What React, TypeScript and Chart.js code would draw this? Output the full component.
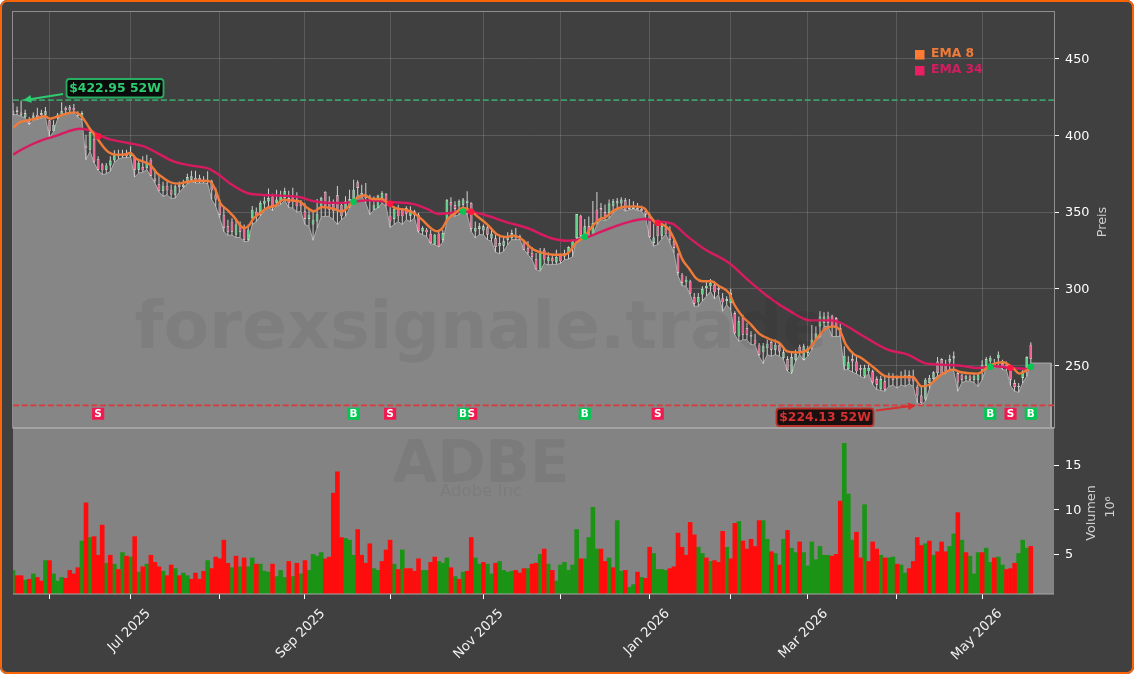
import React, { useEffect, useRef } from "react";
import { Chart, registerables } from "chart.js";

Chart.register(...registerables);

const opens = [
413.5,416.4,415,412,409.2,411.5,413.5,414.6,413.5,409.9,
402.7,411.4,413.5,417.9,418.3,417.9,414.6,412,393.4,390.7,
397.7,384.7,381,377.7,380.5,383.8,387.9,386.4,388.1,386.4,
386,377.7,379.5,378.8,384.2,372,368.4,363.8,367.3,364.7,
361.4,368,366.4,369.5,371.2,372.3,372.3,369.9,371.2,370.1,
361.4,356,348.4,341,343.8,335.3,341.9,339.9,332.1,346.2,
350.3,349.5,355.5,357,360.3,356,357.1,359.2,359.2,360.3,
358.2,356,
350.6,345.6,341.9,344,352.7,363.2,357.1,355.3,361,354.9,
351.6,353.8,357.1,369.5,360.3,361.4,360.3,351.6,352.7,359.2,
361.9,347.7,345.6,352.1,351.6,352.7,347.7,350.6,348.4,337.5,
338.6,336,329,336,332.1,344.7,356.4,354.5,353.8,354.9,
356,356,337.5,339.1,338,340.1,332.8,333,327.8,328.2,
332.1,333.2,334.3,334.3,331,326.7,323.4,319.5,312.6,325.6,
318,320,317.3,322.3,321.2,323.4,326.7,333.2,347.7,335.4,
340.8,335.4,351.6,352.7,350.1,349.5,353.8,355.6,355.6,357.7,
353.8,352.1,352.7,352.1,350.6,348.4,330,340.8,334.7,340,
337.5,331,323,309.3,304.3,305,294.8,291.3,296.3,300.6,
301.7,302.8,300.6,294,292,290.8,284.3,269,281,274.5,
270,266.9,263.7,258.7,261.5,265.4,260.4,263.7,255,254.3,
245.7,253.5,262.2,253.9,258.3,262.6,267,275.6,277.8,282.1,
282.6,281,274.5,249.6,247.8,254.3,252.8,248.5,243,246.3,
246.3,241.3,234.8,239.8,242,242.6,241.5,242.4,242,243.9,
243,236.1,230.5,227.9,238.7,241.3,252.8,254.3,250.6,252.5,
254.6,245.2,244.1,241.3,243,240.9,240.9,246.3,250,252.8,
251.7,255,251.7,250.6,249.6,238.7,236.9,242,248.5,263.7,
];

const highs = [
421.1,418.9,422.7,416.8,412,415,418,416.8,418.6,410.3,
409.9,414.6,421.6,419,419.8,420.5,415.7,415.7,400.5,402.7,
401.6,386.4,382.1,382.1,386.4,390.3,390.7,390.7,390.7,392.9,
386.4,384.2,386.4,387.5,385.3,377.7,373.4,369.9,369.9,368,
368,370,371.2,375,377,377,374.4,373.4,376.6,371.2,
366,358.2,354,345,346,345,344,341.9,342,354,
353,357.5,360,365.5,362,364.7,364,366,364,366,
363,358,
355.9,352,350.6,358.6,360,363.6,360.4,358.2,367,356,
360.4,364.7,371.2,370.8,367.9,369,361.4,360.3,361.4,363.6,
362.5,353.3,353.8,354.9,352.7,353.8,353.8,351.6,349.5,340.8,
339.7,338.6,336,337.5,338.6,358.6,359.8,357.1,358.2,359.3,
363.6,356.4,344,343,342,341.9,338.6,335.3,334.2,333.8,
337,338.6,339.7,335.3,332.1,331,327.3,323.4,326.7,326.7,
323.9,322.3,325.6,323,325.6,327.8,332,348.8,348.4,345.6,
347.2,357.3,363.1,356,355,358.2,358.6,359.3,359.7,359.2,
358.6,357.1,356,354.2,352.7,349.5,342.4,345.1,344,344,
340.8,333.2,323.4,310.4,308.2,306,297.3,297.3,301.7,304.9,
306.5,305,302.8,297.3,295.2,299.9,285.4,282.1,283.2,277.8,
272.4,270.8,264.7,264.7,267,267.3,267,264.7,261.5,256.1,
258.3,260.4,263.7,264.3,263,276.5,275.6,285.4,284.8,285.2,
283.2,281.7,277.8,262.6,256.1,258.3,256,250.6,250.6,250.6,
247.4,243,243.5,243.5,245.4,245,243.6,246.3,247.4,246.9,
247.4,237.6,236.1,242,244,246.3,255.6,254.9,253.9,257.2,
259.2,246.3,244.8,244.1,244,245,245.2,253.5,255.6,256.5,
254.3,259.3,253.9,252.8,250.6,240.9,238.7,247.4,256.1,265.2,
];

const lows = [
413.5,413.5,412.5,411.4,407,410,410.4,411.2,412,398.3,
402.7,410.7,413.5,414.6,414.8,414.6,411.9,410.3,384.2,389.6,
382.1,377.3,374.5,375,376.6,382.5,384.6,385.5,385.5,386,
372.9,375.5,376,377.7,373.4,369,363.4,360.3,361.4,358.9,
359.1,363,365.8,368.6,369.9,369,369,369,368.6,358.2,
353.8,346,337.3,335,335,333.5,333.5,330.8,331,341.9,
344,347.5,351,354,351,354,355,357.7,353,352.7,
350,350.5,
341.9,340.8,331.7,339.7,346.8,347.3,347.3,345.1,341.9,345.1,
347.3,352.7,355.9,361.4,360.3,356,348.4,351.6,352.7,356,
353.8,340.1,341.9,343.9,341.9,345.1,343.9,346.2,336.8,335.3,
334.2,329.4,328.8,327.3,330.6,344,348.4,347.3,348.4,351.6,
348.4,337.5,333.2,335.3,335.3,332.1,331,323.9,323,324.5,
328.8,332.1,332.1,332.1,325.6,322.3,319.1,312.6,311.5,316.6,
315.6,316,316,316.6,319,319.5,321,332.5,334.3,334.3,
334,335,342,345.1,344.6,346,349.5,351.6,353.3,350.6,
351.6,352.1,351.2,350.6,346.8,333.2,327.8,329,332.5,335.6,
329.9,323.4,308.7,302.2,301.7,296.5,288.7,288.7,292.1,295.2,
298.5,293.4,296.3,285.4,289.7,286.5,270.2,265.8,266.9,266.9,
263.7,263.6,256.1,251.3,257.2,256.1,257.2,256.1,253.9,246.3,
244.8,252.8,257.2,253.5,256.1,260.4,267,268.4,275.6,275.6,
269,269,269.1,247.4,247.4,245.8,244.7,243,241.9,244.8,
237.6,234.4,233.9,233.3,236.5,237.4,235.4,237.4,236.5,238,
236.5,225.7,224.4,226.8,234.9,240.9,243.5,244,244.8,247.9,
246.3,233.3,239,240,240,239,236.5,240.9,248.5,251.3,
248.5,250.6,247.4,247,236.9,233.3,232.6,238.7,243,251.7,
];

const closes = [
415.7,415.3,413.5,414.6,407.7,413,412,413.3,415.7,402.7,
407,413.5,415.7,416.4,416.4,416.4,412.9,414.6,391.8,402,
383.1,377.7,377.3,380.5,383.6,388.1,386.4,388.1,386.4,389,
377.7,382.1,377.3,382.1,373.8,370.5,363.8,367.3,364.3,361.6,
366.9,366.4,368,372.9,373.4,370.1,370.1,371.2,369.5,364.3,
358.2,348.4,339.9,337,337.3,341.9,337.3,332.1,338.6,351.6,
347.3,356,357.5,359.2,352.7,358.2,360.3,363.6,356,357.1,
353.8,353.8,
345.6,348.4,345.1,349,359.3,353.8,351.6,350.6,350.6,347.3,
357.1,358.6,364.7,365.8,362.5,359.2,357.1,354.9,360.8,362.5,
353.8,344,352.1,347.3,347.3,349,351.6,348.4,337.5,339.7,
336.9,329.9,335.3,327.8,336.4,357.7,354.3,352.1,357.1,358.2,
357.5,339.1,339.7,340.8,340.8,335.3,336,327.3,329.9,331,
334.3,336.4,333,332.8,325.6,323.4,320.8,313,324.5,319.1,
320.6,318,320.8,318,323.4,327.3,331,348.8,334.7,340.8,
334.3,343,343,351.2,347.3,355.6,357.1,357.1,358.2,351.2,
352.1,353.8,351.2,350.6,348.4,333.8,333.5,334.3,340.8,335.6,
332.1,326.7,310.4,303.9,306,297,290.4,294.8,300,302.1,
303.9,297.8,299.5,291.3,293.4,297.3,271.3,278.9,270.2,270.2,
269,264.3,257.2,263,264.3,260.4,263.7,259.3,258.7,247,
255.6,257.8,259.3,262.6,261.5,266.9,270.9,282.1,282.1,277.8,
275.6,274.5,269.1,256.5,252.2,252.8,246.3,247.4,248.5,248.5,
239.1,237.6,241.3,234.4,243,240.9,243,243.5,244.1,239.8,
239.8,230.5,225.7,240.9,242,245.7,245.2,244.1,246.3,254.3,
256.1,239.1,240.9,243.5,240.9,243.5,244.1,250.6,254.3,255,
249.6,257.2,249.6,248.5,240.9,236.1,235.9,246.3,255.6,254.3,
];

const volumes = [
3.2,2.6,2.6,2.1,2.2,2.8,2.4,2.0,4.3,4.3,
2.8,2.0,2.4,2.3,3.2,2.8,3.5,6.5,10.8,6.9,
7.0,4.9,8.3,4.0,4.9,3.9,3.3,5.2,4.8,4.7,
7.0,3.0,3.6,3.9,4.9,4.1,3.6,3.1,2.6,3.8,
3.4,2.6,2.9,2.6,2.2,2.9,2.2,3.1,4.3,3.4,
4.7,4.5,6.6,4.0,3.5,4.8,3.6,4.6,3.6,4.6,
3.9,3.9,3.1,3.0,3.9,2.5,3.2,2.4,4.2,2.5,
4.0,2.8,4.3,3.2,5.0,4.8,5.2,4.5,4.7,11.9,
14.3,6.9,6.8,6.6,4.9,7.8,4.9,4.0,6.2,3.4,
3.2,
4.2,5.5,6.6,3.9,3.3,5.5,3.4,3.4,3.1,4.5,
3.2,3.2,4.1,4.7,4.2,4.0,4.6,3.5,2.5,2.2,
3.0,3.1,6.9,4.6,3.9,4.1,3.9,2.8,4.0,4.2,
3.2,3.0,3.1,3.2,2.9,3.4,3.4,3.9,4.0,5.0,
5.6,3.9,3.2,2.0,3.8,4.1,3.2,3.8,7.8,4.5,
4.5,6.9,10.3,5.6,5.6,4.2,4.6,3.5,8.8,3.1,
3.2,1.3,1.6,3.0,2.4,2.3,5.8,5.1,3.3,3.3,
3.2,3.4,3.6,7.4,5.8,4.9,8.6,7.2,5.8,5.1,
4.6,4.2,4.3,4.1,7.6,5.8,4.5,8.5,8.7,6.5,
5.6,6.7,5.9,8.8,
8.8,6.7,5.3,5.1,3.8,6.7,7.7,5.7,5.2,6.4,
5.2,3.7,6.4,4.4,5.9,4.9,4.9,4.8,5.0,11.0,
17.5,11.8,6.6,7.5,4.6,10.6,4.2,6.4,5.6,4.9,
4.6,4.6,4.7,3.9,3.8,2.9,3.4,4.2,6.9,6.0,
6.2,6.5,4.9,5.3,6.4,5.3,5.9,7.3,9.7,6.6,
5.2,4.8,2.8,5.2,5.2,5.7,4.1,4.6,4.7,3.8,
3.3,3.4,4.0,5.1,6.6,5.7,5.9,
];

const volumeSides = [
"grrgrgrrgr","gggrrrrgrg","rrrgrgrgrg","rgrgrrrgrr","grggrrrrgr",
"rrrrgrgrgg","rgggrgggrg","rgrggggrrr","rrgggrrrrg","g",
"rrrgrgrrrr","ggrrgggrgr","grrggrggrg","gggrrrgrrg","rgrggggggr",
"ggggrrgrgg","rggrgrrggg","grrrrrrrgg","rgrrrgrrgr","rrrr",
"ggrgrgrggr","gggggggrrr","gggrrgrrrg","rggrggrrrr","grgrrrggrg",
"rgggrggrgg","rrrgggr",
].join("").split("");

const ema8Index = [0,1.7,3.8,5.8,7.9,9.1,11.2,13.3,15.3,16.5,17.8,19,20.7,22.3,23.5,25.2,27.2,28.9,30.5,32.6,33.8,35.5,37.1,38.8,40.8,42.9,45,47,48.6,49.9,51.1,52.8,54.4,56.9,58.1,59.4,61,62.6,64.7,66.7,68.8,70.9,72.1,74.2,76.2,79.1,81.2,82.4,83.8,85.3,86.7,88.6,91,92.4,94.3,96.8,98.8,100.9,103,104.6,105.9,107.1,109.1,111,112.4,114.5,117,119.4,121.5,123.5,125.6,128.1,130.1,133.4,135.9,137.1,138.8,140.8,142.9,144.5,146.2,148.2,150.3,153.2,155.6,156.9,158.5,160.2,161.8,163.5,165.1,166.8,168.4,170,172.1,174.2,176.6,177.9,179.9,182,184,186.5,189,191,193.5,196,198,200.1,202.1,203.8,205.4,207.5,209.1,212.4,215.3,218.2,221.9,224,226,228.9,231.8,233.8,237.9,241.2,244.1,246.6,248.2,250.3,251];
const ema8Values = [404.9,408.6,409.9,411.2,412.5,410.9,412.5,414.2,415,413.5,409.2,404.2,398.3,392.5,389.2,387.5,387.5,388.6,384.7,382.5,381,375.5,372.3,369.5,368.6,369.7,370.5,370.5,370.1,364.7,356,351.6,347.3,339.7,341,346.2,349.5,352.7,354.3,358.2,357.5,356.8,353.8,350.6,353.4,352.1,350.6,352.7,357.1,359.9,361,358.6,358.6,356,352.7,351.6,349.5,345.1,339.7,337.5,339.7,345.1,349.5,352.7,351.6,347.3,341.9,335.4,333.8,334.7,332.1,326,323.8,322.3,322.3,323.8,329.9,333.8,340.8,345.1,346.9,351.2,353.4,353.8,352.7,348.4,343,341.9,338.6,329.9,319.1,313,307.1,305,305,301.7,297.3,289.7,282.1,276.7,270.9,267.4,264.8,259.3,258.7,260.4,266.9,273.5,275.6,273.5,263.7,257.2,255.2,248.5,243,242.6,242.6,236.5,237.6,244.1,247.4,245.7,244.8,250.6,252.2,248.5,244.8,247.4,248.5];

const ema34Index = [0,2.5,5,7.9,10.8,13.6,16.5,19,21.1,23.5,28.4,32.6,35.5,39.6,43.7,48.2,50.4,53.6,57.7,61,65.9,70.9,74.2,79.1,83.2,87.3,93.1,98.8,102.1,105,107.9,111,115.3,121.9,126.8,132.6,136.7,140,143.3,147.4,151.5,155.6,158.9,162.6,166.3,170.5,176.6,181.2,186.1,191,196.8,201.7,204.2,209.1,215.7,220.7,224.8,228.9,233.8,237.9,242,246.2,251];
const ema34Values = [387.5,391.3,394.6,397.6,399.9,402.7,404.4,403.3,400.5,397.7,395.1,392.5,388.6,383.1,380.5,378.4,375.1,368.6,362.5,361.4,360.8,359.7,357.1,356,356.4,357.7,356.6,355.3,352.1,348.8,349.5,350.6,349,343.4,339.7,333.2,331.4,332.5,335.4,339.7,343.4,345.6,344,342.5,334.3,326,316.9,306,295.2,286.5,279.5,279.5,277.8,270.2,260.4,257.2,251.7,250.7,250,248.5,249.6,248.5,247.8];

const crossBuyIndex = [84,111,141,241,251];
const crossBuyPrice = [356.8,350.5,334,249.3,249.3];
const crossSellIndex = [21,93,113,159,246];
const crossSellPrice = [399.5,355.5,350.3,343,248.6];

const monthTickIndex = [9,29,51,72,93,116,135,157,177,196,218,239];
const monthTickLabels = ["","Jul 2025","","Sep 2025","","Nov 2025","","Jan 2026","","Mar 2026","","May 2026"];
const priceTicks = [250,300,350,400,450];
const volumeTicks = [5,10,15];

const high52 = 422.95;
const low52 = 224.13;
const high52Index = 2.5;
const low52Index = 222.7;
const badgeBand = 218.7;
const areaEndIndex = 256;

const PRICE_MIN = 209.4;
const PRICE_MAX = 480.75;
const VOL_MIN = 0.5;
const VOL_MAX = 19.2;
const X_MAX = 256.72;

const FONT = "'DejaVu Sans'";
const ORANGE = "#f07a38";
const PINK = "#d81b60";

const chartText = {
  id: "chartText",
  beforeDatasetsDraw(chart: any) {
    const { ctx, chartArea } = chart;
    const v = chart.scales.yVol;
    ctx.save();
    ctx.fillStyle = "#838383";
    ctx.fillRect(chartArea.left, v.top, chartArea.right - chartArea.left, v.bottom - v.top);
    ctx.restore();
  },
  afterDatasetsDraw(chart: any) {
    const { ctx, chartArea } = chart;
    const x = chart.scales.x;
    const p = chart.scales.yPrice;
    const v = chart.scales.yVol;
    const L = chartArea.left;
    const R = chartArea.right;
    ctx.save();

    // watermarks
    ctx.textAlign = "center";
    ctx.textBaseline = "alphabetic";
    ctx.fillStyle = "rgba(0,0,0,0.055)";
    ctx.font = `bold 66.5px ${FONT}`;
    ctx.fillText("forexsignale.trade", 481, 348);
    ctx.font = `bold 58px ${FONT}`;
    ctx.fillText("ADBE", 481, 482);
    ctx.font = `16.5px ${FONT}`;
    ctx.fillText("Adobe Inc", 481, 496);

    // frame
    ctx.strokeStyle = "#8f8f8f";
    ctx.lineWidth = 1;
    ctx.strokeRect(L - 0.5, p.top, R - L + 1, p.bottom - p.top);
    ctx.strokeStyle = "#a3a3a3";
    ctx.lineWidth = 2;
    ctx.beginPath();
    ctx.moveTo(L, p.bottom);
    ctx.lineTo(R, p.bottom);
    ctx.stroke();
    ctx.lineWidth = 1;
    ctx.strokeStyle = "#a8a8a8";
    ctx.beginPath();
    ctx.moveTo(L, v.bottom);
    ctx.lineTo(R, v.bottom);
    ctx.stroke();

    // badge letters
    ctx.textBaseline = "middle";
    ctx.font = `bold 10.5px ${FONT}`;
    ctx.fillStyle = "#ffffff";
    const by = p.getPixelForValue(badgeBand);
    crossBuyIndex.forEach((k) => ctx.fillText("B", x.getPixelForValue(k), by + 0.5));
    crossSellIndex.forEach((k) => ctx.fillText("S", x.getPixelForValue(k), by + 0.5));

    // 52-week notes
    const note = (
      text: string, boxX: number, boxY: number, boxW: number, boxH: number,
      fill: string, stroke: string, color: string,
      fromX: number, fromY: number, toX: number, toY: number
    ) => {
      ctx.strokeStyle = color;
      ctx.fillStyle = color;
      ctx.lineWidth = 2;
      const ang = Math.atan2(toY - fromY, toX - fromX);
      ctx.beginPath();
      ctx.moveTo(fromX, fromY);
      ctx.lineTo(toX - 7 * Math.cos(ang), toY - 7 * Math.sin(ang));
      ctx.stroke();
      ctx.beginPath();
      ctx.moveTo(toX, toY);
      ctx.lineTo(toX - 9 * Math.cos(ang - 0.45), toY - 9 * Math.sin(ang - 0.45));
      ctx.lineTo(toX - 9 * Math.cos(ang + 0.45), toY - 9 * Math.sin(ang + 0.45));
      ctx.closePath();
      ctx.fill();
      ctx.beginPath();
      ctx.roundRect(boxX, boxY, boxW, boxH, 3);
      ctx.fillStyle = fill;
      ctx.fill();
      ctx.strokeStyle = stroke;
      ctx.lineWidth = 1.8;
      ctx.stroke();
      ctx.fillStyle = color;
      ctx.font = `bold 12.4px ${FONT}`;
      ctx.textAlign = "center";
      ctx.textBaseline = "middle";
      ctx.fillText(text, boxX + boxW / 2, boxY + boxH / 2 + 0.5);
    };
    note("$422.95 52W", 66.5, 79, 97, 18.5, "#0b0b0b", "#27ae60", "#2ecc71",
      63, 94, x.getPixelForValue(high52Index), p.getPixelForValue(high52));
    note("$224.13 52W", 776.5, 408.5, 97, 17.5, "#1b1010", "#b8322a", "#d63030",
      876, 410.5, x.getPixelForValue(low52Index), p.getPixelForValue(low52));

    // legend
    ctx.textAlign = "left";
    ctx.textBaseline = "middle";
    ctx.font = `bold 12.3px ${FONT}`;
    ctx.fillStyle = "#ff7a33";
    ctx.fillRect(915, 50, 9.5, 9.5);
    ctx.fillStyle = ORANGE;
    ctx.fillText("EMA 8", 931, 54);
    ctx.fillStyle = "#e91e63";
    ctx.fillRect(915, 66, 9.5, 9.5);
    ctx.fillStyle = PINK;
    ctx.fillText("EMA 34", 931, 70);

    // axis titles
    const vertical = (text: string, tx: number, ty: number) => {
      ctx.save();
      ctx.translate(tx, ty);
      ctx.rotate(-Math.PI / 2);
      ctx.fillStyle = "#d0d0d0";
      ctx.font = `12.8px ${FONT}`;
      ctx.textAlign = "center";
      ctx.textBaseline = "middle";
      ctx.fillText(text, 0, 0);
      ctx.restore();
    };
    vertical("Preis", 1103, 222);
    vertical("Volumen", 1092, 513);
    vertical("10⁶", 1111, 507);
    ctx.restore();
  },
};

const clearPadding = (s: any) => {
  s.paddingTop = 0;
  s.paddingBottom = 0;
  s.paddingLeft = 0;
  s.paddingRight = 0;
};

export default function App() {
  const ref = useRef<HTMLCanvasElement | null>(null);

  useEffect(() => {
    const idx = opens.map((_, i) => i);
    const areaPoints = [
      ...idx.map((i) => ({ x: i, y: lows[i] })),
      { x: areaEndIndex, y: lows[lows.length - 1] },
      { x: areaEndIndex, y: PRICE_MIN },
    ];
    const volAt = (side: string) =>
      idx.filter((i) => volumeSides[i] === side).map((i) => ({ x: i, y: volumes[i] }));

    const chart = new Chart(ref.current as HTMLCanvasElement, {
      type: "bar",
      plugins: [chartText],
      data: {
        datasets: [
          { type: "bar", label: "Volumen up", yAxisID: "yVol", grouped: false, order: 12, barThickness: 4.6, inflateAmount: 0,
            backgroundColor: "#1b9416", data: volAt("g") },
          { type: "bar", label: "Volumen down", yAxisID: "yVol", grouped: false, order: 11, barThickness: 4.6, inflateAmount: 0,
            backgroundColor: "#ff0d0d", data: volAt("r") },
          { type: "line", label: "Low", yAxisID: "yPrice", order: 10, data: areaPoints, borderColor: "#ababab", borderWidth: 1,
            backgroundColor: "#868686", fill: "start", pointRadius: 0, tension: 0 },
          { type: "bar", label: "Wick", yAxisID: "yPrice", grouped: false, order: 9, barThickness: 1, inflateAmount: 0,
            backgroundColor: "#d2d2d2", data: idx.map((i) => ({ x: i, y: [lows[i], highs[i]] })) },
          { type: "bar", label: "Body", yAxisID: "yPrice", grouped: false, order: 8, barThickness: 2.7, inflateAmount: 0,
            backgroundColor: idx.map((i) => (closes[i] >= opens[i] ? "#62d488" : "#f4608f")),
            borderColor: "#ececec", borderWidth: 0.6, borderSkipped: false,
            data: idx.map((i) => ({ x: i, y: [opens[i], closes[i]] })) },
          { type: "line", label: "High 52W", yAxisID: "yPrice", order: 7, data: [{ x: 0, y: high52 }, { x: X_MAX, y: high52 }],
            borderColor: "#3aa068", borderWidth: 1.8, borderDash: [6, 2.7], pointRadius: 0 },
          { type: "line", label: "Low 52W", yAxisID: "yPrice", order: 7, data: [{ x: 0, y: low52 }, { x: X_MAX, y: low52 }],
            borderColor: "#dc3a3a", borderWidth: 1.8, borderDash: [6, 2.7], pointRadius: 0 },
          { type: "line", label: "EMA 34", yAxisID: "yPrice", order: 6, data: ema34Index.map((k, i) => ({ x: k, y: ema34Values[i] })),
            borderColor: PINK, borderWidth: 2.4, pointRadius: 0, cubicInterpolationMode: "monotone" },
          { type: "line", label: "EMA 8", yAxisID: "yPrice", order: 5, data: ema8Index.map((k, i) => ({ x: k, y: ema8Values[i] })),
            borderColor: ORANGE, borderWidth: 2.4, pointRadius: 0, cubicInterpolationMode: "monotone" },
          { type: "scatter", label: "Cross up", yAxisID: "yPrice", order: 4, data: crossBuyIndex.map((k, i) => ({ x: k, y: crossBuyPrice[i] })),
            backgroundColor: "#00c853", borderWidth: 0, pointRadius: 3.2 },
          { type: "scatter", label: "Cross down", yAxisID: "yPrice", order: 4, data: crossSellIndex.map((k, i) => ({ x: k, y: crossSellPrice[i] })),
            backgroundColor: "#ff1744", borderWidth: 0, pointRadius: 3.2 },
          { type: "scatter", label: "Buy", yAxisID: "yPrice", order: 3, data: crossBuyIndex.map((k) => ({ x: k, y: badgeBand })),
            backgroundColor: "#00c853", borderWidth: 0, pointStyle: "rect", pointRadius: 8.6 },
          { type: "scatter", label: "Sell", yAxisID: "yPrice", order: 3, data: crossSellIndex.map((k) => ({ x: k, y: badgeBand })),
            backgroundColor: "#f01a50", borderWidth: 0, pointStyle: "rect", pointRadius: 8.6 },
        ],
      } as any,
      options: {
        responsive: false,
        animation: false,
        maintainAspectRatio: false,
        layout: { padding: { left: 13, top: 11.5, right: 0, bottom: 0 } },
        plugins: { legend: { display: false }, tooltip: { enabled: false } },
        scales: {
          x: {
            type: "linear",
            min: 0,
            max: X_MAX,
            offset: false,
            grid: { offset: false, color: "rgba(255,255,255,0.14)", lineWidth: 1, tickColor: "#ffffff", tickLength: 5 },
            border: { display: false },
            afterBuildTicks: (s: any) => { s.ticks = monthTickIndex.map((value) => ({ value })); },
            afterFit: (s: any) => { s.height = 80; clearPadding(s); },
            ticks: {
              autoSkip: false,
              minRotation: 45,
              maxRotation: 45,
              labelOffset: 18,
              padding: 7,
              color: "#f2f2f2",
              font: { family: "DejaVu Sans", size: 13.3 },
              callback: (value: any) => monthTickLabels[monthTickIndex.indexOf(value)] ?? "",
            },
          },
          yPrice: {
            type: "linear",
            position: "right",
            stack: "panels",
            stackWeight: 416.5,
            weight: 0,
            min: PRICE_MIN,
            max: PRICE_MAX,
            grid: { color: "rgba(255,255,255,0.14)", lineWidth: 1, tickColor: "#ffffff", tickLength: 5 },
            border: { display: false },
            afterBuildTicks: (s: any) => { s.ticks = priceTicks.map((value) => ({ value })); },
            afterFit: (s: any) => { s.width = 80; clearPadding(s); },
            ticks: { color: "#ffffff", padding: 6, labelOffset: 0.8, font: { family: "DejaVu Sans", size: 12.8 }, callback: (v: any) => String(v) },
          },
          yVol: {
            type: "linear",
            position: "right",
            stack: "panels",
            stackWeight: 166,
            weight: 1,
            min: VOL_MIN,
            max: VOL_MAX,
            grid: { drawOnChartArea: false, tickColor: "#ffffff", tickLength: 5 },
            border: { display: false },
            afterBuildTicks: (s: any) => { s.ticks = volumeTicks.map((value) => ({ value })); },
            afterFit: (s: any) => { s.width = 80; clearPadding(s); },
            ticks: { color: "#ffffff", padding: 6, labelOffset: 0.8, font: { family: "DejaVu Sans", size: 12.8 }, callback: (v: any) => String(v) },
          },
        },
      } as any,
    });
    return () => chart.destroy();
  }, []);

  return (
    <div style={{ position: "fixed", left: 0, top: 0, width: 1134, height: 674, overflow: "hidden", borderRadius: 7, background: "#404040" }}>
      <canvas ref={ref} width={1134} height={674} style={{ display: "block", width: 1134, height: 674 }} />
      <div style={{ position: "absolute", inset: 0, boxSizing: "border-box", border: "2px solid #fb6407", borderRadius: 7, pointerEvents: "none" }} />
    </div>
  );
}
